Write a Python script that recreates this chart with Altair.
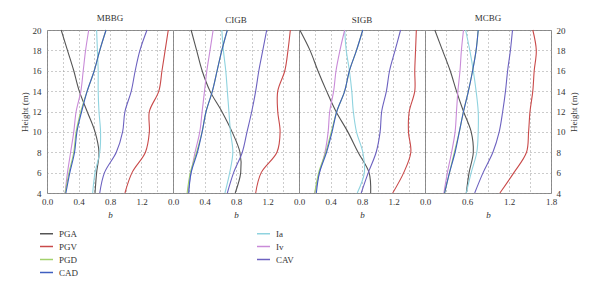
import altair as alt
import pandas as pd

heights = [4, 6, 8, 10, 12, 14, 16, 18, 20]
sites = ["MBBG", "CIGB", "SIGB", "MCBG"]
draw_order = ["PGA", "PGV", "Ia", "Iv", "CAV", "PGD", "CAD"]
legend_order = ["PGA", "PGV", "PGD", "CAD", "Ia", "Iv", "CAV"]
legend_colors = ["#555555", "#c94a4a", "#a3d16c", "#3f5fc0", "#8fd3df", "#c98bd8", "#6d62c0"]

mbbg = {
    "PGA": [0.61, 0.63, 0.66, 0.61, 0.51, 0.41, 0.34, 0.26, 0.18],
    "PGV": [0.99, 1.08, 1.25, 1.30, 1.30, 1.42, 1.46, 1.50, 1.54],
    "PGD": [0.23, 0.28, 0.34, 0.37, 0.43, 0.51, 0.60, 0.67, 0.75],
    "CAD": [0.24, 0.29, 0.35, 0.38, 0.44, 0.51, 0.60, 0.67, 0.75],
    "Ia":  [0.58, 0.61, 0.67, 0.68, 0.66, 0.65, 0.65, 0.64, 0.63],
    "Iv":  [0.23, 0.26, 0.30, 0.34, 0.37, 0.43, 0.46, 0.49, 0.53],
    "CAV": [0.67, 0.73, 0.88, 0.96, 0.99, 1.07, 1.12, 1.18, 1.27],
}
cigb = {
    "PGA": [0.79, 0.86, 0.85, 0.75, 0.62, 0.47, 0.37, 0.30, 0.23],
    "PGV": [1.05, 1.12, 1.32, 1.36, 1.33, 1.33, 1.42, 1.46, 1.49],
    "PGD": [0.18, 0.22, 0.30, 0.37, 0.42, 0.50, 0.56, 0.62, 0.69],
    "CAD": [0.20, 0.23, 0.31, 0.37, 0.42, 0.50, 0.56, 0.62, 0.69],
    "Ia":  [0.66, 0.72, 0.76, 0.73, 0.71, 0.69, 0.67, 0.64, 0.62],
    "Iv":  [0.19, 0.23, 0.28, 0.34, 0.37, 0.40, 0.43, 0.47, 0.51],
    "CAV": [0.69, 0.77, 0.88, 0.94, 1.00, 1.05, 1.09, 1.14, 1.19],
}
sigb = {
    "PGA": [0.91, 0.89, 0.75, 0.62, 0.47, 0.35, 0.24, 0.14, 0.01],
    "PGV": [1.19, 1.33, 1.42, 1.39, 1.40, 1.47, 1.47, 1.48, 1.49],
    "PGD": [0.20, 0.25, 0.34, 0.41, 0.48, 0.58, 0.64, 0.73, 0.81],
    "CAD": [0.22, 0.26, 0.35, 0.42, 0.48, 0.58, 0.64, 0.73, 0.81],
    "Ia":  [0.74, 0.83, 0.81, 0.73, 0.69, 0.67, 0.64, 0.60, 0.58],
    "Iv":  [0.20, 0.26, 0.33, 0.37, 0.39, 0.44, 0.47, 0.52, 0.58],
    "CAV": [0.79, 0.88, 0.98, 1.03, 1.05, 1.11, 1.15, 1.22, 1.29],
}
mcbg = {
    "PGA": [0.59, 0.63, 0.69, 0.66, 0.55, 0.45, 0.36, 0.25, 0.14],
    "PGV": [1.07, 1.27, 1.45, 1.48, 1.50, 1.54, 1.56, 1.59, 1.54],
    "PGD": [0.28, 0.35, 0.42, 0.49, 0.55, 0.62, 0.68, 0.73, 0.76],
    "CAD": [0.28, 0.35, 0.43, 0.49, 0.55, 0.62, 0.68, 0.73, 0.76],
    "Ia":  [0.59, 0.66, 0.74, 0.76, 0.76, 0.73, 0.69, 0.64, 0.58],
    "Iv":  [0.27, 0.32, 0.38, 0.43, 0.45, 0.47, 0.50, 0.52, 0.55],
    "CAV": [0.71, 0.83, 0.97, 1.06, 1.11, 1.15, 1.18, 1.22, 1.25],
}
site_data = [mbbg, cigb, sigb, mcbg]

x_grid_small = [0.0, 0.2, 0.4, 0.6, 0.8, 1.0, 1.2, 1.4, 1.6]
x_grid_last = [0.0, 0.3, 0.6, 0.9, 1.2, 1.5, 1.8]
y_ticks = [4, 6, 8, 10, 12, 14, 16, 18, 20]

FONT = "Liberation Serif"
TXT = "#333333"
W, H = 126, 163


def build(d):
    rows = []
    for m in draw_order:
        for h, v in zip(heights, d[m]):
            rows.append({"measure": m, "b": v, "height": h})
    return pd.DataFrame(rows)


panels = []
for i, (site, d) in enumerate(zip(sites, site_data)):
    last = i == 3
    if last:
        xdom = [0, 1.8]
        xvals = x_grid_last
        lexpr = "round(datum.value*10) % 6 == 0 ? format(datum.value, '.1f') : ''"
    else:
        xdom = [0, 1.6]
        xvals = x_grid_small
        lexpr = "(round(datum.value*10) % 4 == 0 && datum.value < 1.5) ? format(datum.value, '.1f') : ''"
    xaxis = alt.Axis(values=xvals, labelExpr=lexpr, title="b", titleFontStyle="italic",
                     grid=True, gridDash=[1, 3], gridColor="#999999", ticks=False,
                     domain=False, labelOverlap=False, labelFlush=False, labelPadding=4,
                     titlePadding=4)
    if i == 0:
        yaxis = alt.Axis(values=y_ticks, title="Height (m)", grid=True, gridDash=[1, 3],
                         gridColor="#999999", ticks=False, domain=False, labelPadding=6,
                         titlePadding=3)
    elif last:
        yaxis = alt.Axis(values=y_ticks, title="Height (m)", orient="right", grid=True,
                         gridDash=[1, 3], gridColor="#999999", ticks=False, domain=False,
                         labelPadding=5, titlePadding=4, titleAngle=270, titleBaseline="top")
    else:
        yaxis = alt.Axis(values=y_ticks, title=None, labels=False, grid=True, gridDash=[1, 3],
                         gridColor="#999999", ticks=False, domain=False)
    ch = alt.Chart(build(d)).mark_line(strokeWidth=1.1, interpolate="catmull-rom").encode(
        x=alt.X("b:Q", scale=alt.Scale(domain=xdom, nice=False, zero=False), axis=xaxis),
        y=alt.Y("height:Q", scale=alt.Scale(domain=[4, 20], nice=False, zero=False), axis=yaxis),
        order=alt.Order("height:Q"),
        color=alt.Color("measure:N",
                        scale=alt.Scale(domain=legend_order, range=legend_colors),
                        legend=alt.Legend(title=None, orient="none", legendX=-8, legendY=196,
                                          columns=2, direction="vertical", columnPadding=174,
                                          rowPadding=0, symbolType="stroke", symbolSize=170,
                                          symbolStrokeWidth=1.5, labelOffset=5)),
    ).properties(width=W, height=H, title=site)
    panels.append(ch)

chart = alt.hconcat(*panels, spacing=0, bounds="flush").properties(
    padding={"left": 11, "top": 5, "right": 5, "bottom": 5}
).configure_view(stroke="#888888", strokeWidth=1).configure_axis(
    labelFont=FONT, titleFont=FONT, labelFontSize=9, titleFontSize=9,
    labelColor=TXT, titleColor=TXT, titleFontWeight="normal"
).configure_title(font=FONT, fontSize=9, fontWeight="normal", color=TXT, offset=3
).configure_legend(labelFont=FONT, labelFontSize=9, labelColor=TXT)

chart.save("out.html", embed_options={"renderer": "svg", "actions": False})
